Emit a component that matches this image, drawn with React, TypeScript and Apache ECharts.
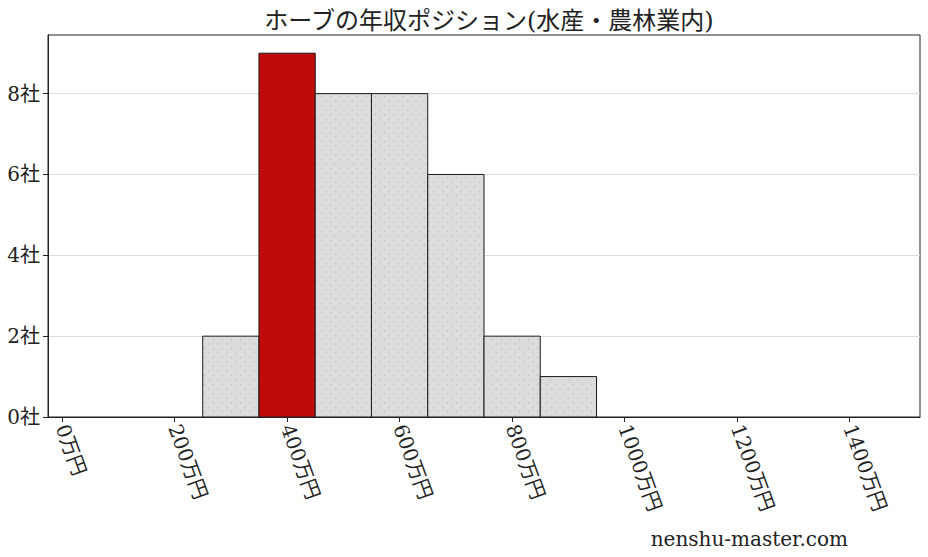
import React, { useEffect, useRef } from "react";
import * as echarts from "echarts";

const TITLE = "ホーブの年収ポジション(水産・農林業内)";
const binStarts = [250, 350, 450, 550, 650, 750, 850];
const binWidth = 100;
const counts = [2, 9, 8, 8, 6, 2, 1];
const highlightIndex = 1;
const xTicks = [0, 200, 400, 600, 800, 1000, 1200, 1400];
const xTickLabels = ["0万円", "200万円", "400万円", "600万円", "800万円", "1000万円", "1200万円", "1400万円"];
const yTicks = [0, 2, 4, 6, 8];
const WATERMARK = "nenshu-master.com";

const FONT = "'DejaVu Serif', 'Noto Sans CJK JP', serif";

const dotSvg =
  "data:image/svg+xml;utf8," +
  encodeURIComponent(
    "<svg xmlns='http://www.w3.org/2000/svg' width='9' height='9'><rect width='9' height='9' fill='#dcdcdf'/><circle cx='2' cy='2' r='0.6' fill='#a8a8ab'/><circle cx='6.5' cy='6.5' r='0.6' fill='#a8a8ab'/></svg>"
  );

export default function App() {
  const ref = useRef<HTMLDivElement>(null);
  useEffect(() => {
    if (!ref.current) return;
    const chart = echarts.init(ref.current, undefined, { renderer: "svg" });
    const img = new Image();
    img.src = dotSvg;
    const data = binStarts.map((s, i) => [s, s + binWidth, counts[i], i]);
    chart.setOption({
      animation: false,
      backgroundColor: "#fff",
      title: {
        text: TITLE,
        left: 484,
        textAlign: "center",
        top: 4,
        textStyle: { fontFamily: FONT, fontSize: 24, fontWeight: "normal", color: "#222" },
      },
      grid: {
        left: 48,
        right: 8,
        top: 35,
        bottom: 140,
        show: true,
        borderColor: "#222",
        borderWidth: 1,
        backgroundColor: "#fff",
      },
      xAxis: {
        type: "value",
        min: -25,
        max: 1525,
        splitLine: { show: false },
        axisLine: { show: true, onZero: false, lineStyle: { color: "#222" } },
        axisTick: { show: true, length: 5, customValues: xTicks, lineStyle: { color: "#222" } },
        axisLabel: {
          customValues: xTicks,
          rotate: -70,
          margin: 8,
          fontFamily: FONT,
          fontSize: 20,
          color: "#222",
          formatter: (v: number) => xTickLabels[xTicks.indexOf(v)] ?? "",
        },
      },
      yAxis: {
        type: "value",
        min: 0,
        max: 9.45,
        interval: 2,
        splitLine: { show: true, lineStyle: { color: "#dddddd", width: 1 } },
        axisLine: { show: true, onZero: false, lineStyle: { color: "#222" } },
        axisTick: { show: true, length: 5, customValues: yTicks, lineStyle: { color: "#222" } },
        axisLabel: {
          customValues: yTicks,
          margin: 8,
          fontFamily: FONT,
          fontSize: 20,
          color: "#222",
          formatter: (v: number) => `${v}社`,
        },
      },
      graphic: [
        {
          type: "text",
          right: 80,
          bottom: 8,
          style: { text: WATERMARK, fontFamily: FONT, fontSize: 20, fill: "#222" },
        },
      ],
      series: [
        {
          type: "custom",
          clip: true,
          encode: { x: [0, 1], y: 2 },
          data,
          renderItem: (params: any, api: any) => {
            const x0 = api.value(0);
            const x1 = api.value(1);
            const y = api.value(2);
            const idx = api.value(3);
            const p0 = api.coord([x0, y]);
            const p1 = api.coord([x1, 0]);
            const hl = idx === highlightIndex;
            return {
              type: "rect",
              shape: { x: p0[0], y: p0[1], width: p1[0] - p0[0], height: p1[1] - p0[1] },
              style: {
                fill: hl ? "#c00b0b" : { image: img, repeat: "repeat" },
                stroke: "#1a1a1a",
                lineWidth: 1,
              },
            };
          },
        },
      ],
    });
    return () => chart.dispose();
  }, []);
  return <div ref={ref} style={{ position: "absolute", left: 0, top: 0, width: 928, height: 557 }} />;
}
